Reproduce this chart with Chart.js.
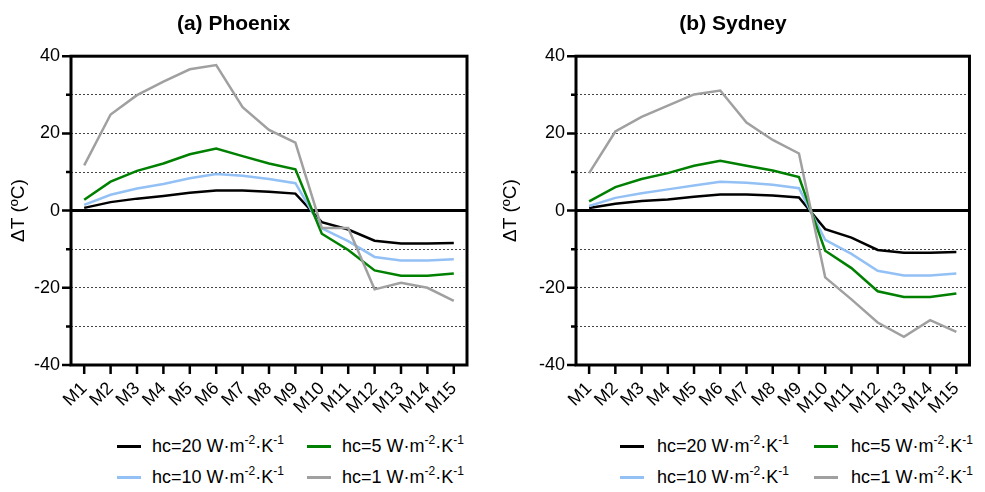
<!DOCTYPE html>
<html>
<head>
<meta charset="utf-8">
<script src="https://cdn.jsdelivr.net/npm/chart.js@4/dist/chart.umd.min.js"></script>
<style>
  html, body { margin: 0; padding: 0; background: #fff; }
  #wrap { position: relative; width: 985px; height: 492px; font-family: "Liberation Sans", Arial, sans-serif; color: #000; }
  .panel { position: absolute; top: 0; }
  .item { position: absolute; white-space: nowrap; height: 22px; line-height: 22px; font-size: 18px; }
  .swatch { position: absolute; left: 0; top: 10px; width: 24px; height: 3px; }
  .lbl { position: absolute; top: 0; }
  .lbl sup { font-size: 12px; vertical-align: 0; position: relative; top: -8px; }
</style>
</head>
<body>
<div id="wrap">
  <div class="panel" style="left:0"><canvas id="chartA" width="492" height="420"></canvas></div>
  <div class="panel" style="left:492px"><canvas id="chartB" width="493" height="420"></canvas></div>
</div>
<script>
// Categories
const months = ['M1','M2','M3','M4','M5','M6','M7','M8','M9','M10','M11','M12','M13','M14','M15'];

// Convective coefficient of each series (W·m-2·K-1)
const hcValues = [20, 10, 5, 1];
const seriesColors = ['#000000', '#93c0f5', '#008000', '#a0a0a0'];

// Y axis range and step
const yMin = -40, yMax = 40, yStep = 10, yLabelStep = 20;

// (a) Phoenix: temperature difference ΔT (ºC)
const phoenixHc20 = [0.7, 2.2, 3.1, 3.8, 4.6, 5.2, 5.2, 4.9, 4.4, -3.0, -4.9, -7.8, -8.5, -8.5, -8.4];
const phoenixHc10 = [1.5, 4.1, 5.7, 6.9, 8.4, 9.5, 9.0, 8.2, 7.1, -4.6, -7.9, -12.0, -12.9, -12.9, -12.6];
const phoenixHc5  = [2.8, 7.5, 10.3, 12.2, 14.6, 16.1, 14.1, 12.2, 10.7, -6.0, -10.2, -15.5, -16.9, -16.9, -16.3];
const phoenixHc1  = [11.7, 24.9, 29.9, 33.4, 36.6, 37.7, 26.8, 20.9, 17.6, -4.5, -4.5, -20.4, -18.7, -20.0, -23.4];

// (b) Sydney: temperature difference ΔT (ºC)
const sydneyHc20 = [0.7, 1.8, 2.5, 2.9, 3.6, 4.2, 4.2, 3.9, 3.4, -4.8, -7.0, -10.2, -10.9, -10.9, -10.7];
const sydneyHc10 = [1.2, 3.3, 4.5, 5.5, 6.5, 7.5, 7.2, 6.7, 5.8, -7.6, -11.2, -15.6, -16.8, -16.8, -16.3];
const sydneyHc5  = [2.4, 6.1, 8.2, 9.7, 11.6, 12.9, 11.6, 10.4, 8.7, -10.4, -14.9, -20.9, -22.4, -22.4, -21.5];
const sydneyHc1  = [9.7, 20.5, 24.3, 27.2, 30.1, 31.1, 22.8, 18.3, 14.8, -17.3, -23.0, -29.0, -32.7, -28.4, -31.4];

// Legend grid: rows of series indices
const legendRows = [[0, 2], [1, 3]];

const FONT = '"Liberation Sans", Arial, sans-serif';

// Frame, zero line and tick marks around the plot area
const framePlugin = {
  id: 'frame',
  beforeDatasetsDraw(chart) {
    const { ctx, chartArea: a, scales: { y } } = chart;
    const y0 = y.getPixelForValue(0);
    ctx.save();
    ctx.strokeStyle = '#000';
    ctx.lineWidth = 3;
    ctx.beginPath();
    ctx.moveTo(a.left, y0);
    ctx.lineTo(a.right, y0);
    ctx.stroke();
    ctx.restore();
  },
  afterDraw(chart) {
    const { ctx, chartArea: a, scales: { x, y } } = chart;
    ctx.save();
    ctx.strokeStyle = '#000';
    ctx.lineWidth = 3;
    ctx.strokeRect(a.left, a.top, a.right - a.left, a.bottom - a.top);
    ctx.lineWidth = 2.5;
    ctx.beginPath();
    y.ticks.forEach(t => {
      const py = y.getPixelForValue(t.value);
      const len = t.value % yLabelStep === 0 ? 9 : 5;
      ctx.moveTo(a.left - len, py);
      ctx.lineTo(a.left, py);
    });
    x.ticks.forEach((t, i) => {
      const px = x.getPixelForTick(i);
      ctx.moveTo(px, a.bottom);
      ctx.lineTo(px, a.bottom + 9);
    });
    ctx.stroke();
    ctx.restore();
  }
};

function makeChart(canvasId, title, series, yWidth, padRight) {
  return new Chart(document.getElementById(canvasId), {
    type: 'line',
    data: {
      labels: months,
      datasets: series.map((vals, i) => ({
        label: 'hc=' + hcValues[i],
        data: vals,
        borderColor: seriesColors[i],
        backgroundColor: seriesColors[i],
        borderWidth: 2.5,
        pointRadius: 0,
        tension: 0,
        fill: false
      })).reverse()
    },
    options: {
      responsive: false,
      animation: false,
      layout: { padding: { left: 0, right: padRight, top: 0, bottom: 0 } },
      plugins: {
        legend: { display: false },
        tooltip: { enabled: false },
        title: {
          display: true,
          text: title,
          color: '#000',
          font: { family: FONT, size: 21, weight: 'bold' },
          padding: { top: 12, bottom: 19 }
        }
      },
      scales: {
        x: {
          offset: true,
          grid: { display: false, drawTicks: false },
          border: { display: false },
          ticks: {
            autoSkip: false,
            minRotation: 45,
            maxRotation: 45,
            padding: 13,
            color: '#000',
            font: { family: FONT, size: 18 }
          },
          afterFit(s) { s.height = 55; }
        },
        y: {
          min: yMin,
          max: yMax,
          grid: {
            drawTicks: false,
            lineWidth: 1,
            color: ctx => {
              const v = ctx.tick ? ctx.tick.value : 0;
              return (v === 0 || Math.abs(v) === yMax) ? 'rgba(0,0,0,0)' : '#444';
            }
          },
          border: { display: false, dash: [2, 2] },
          ticks: {
            stepSize: yStep,
            padding: 11,
            color: '#000',
            font: { family: FONT, size: 18 },
            callback: v => (v % yLabelStep === 0 ? String(v) : '')
          },
          title: {
            display: true,
            text: 'ΔT (ºC)',
            color: '#000',
            font: { family: FONT, size: 19 },
            padding: { top: 7, bottom: 0 }
          },
          afterFit(s) { s.width = yWidth; }
        }
      }
    },
    plugins: [framePlugin]
  });
}

makeChart('chartA', '(a) Phoenix', [phoenixHc20, phoenixHc10, phoenixHc5, phoenixHc1], 71, 25);
makeChart('chartB', '(b) Sydney', [sydneyHc20, sydneyHc10, sydneyHc5, sydneyHc1], 84, 11);

// Legends below each panel
function buildLegend(colLeft, rowCenter, textGap) {
  const wrap = document.getElementById('wrap');
  legendRows.forEach((row, r) => {
    row.forEach((si, c) => {
      const item = document.createElement('div');
      item.className = 'item';
      item.style.left = colLeft[c] + 'px';
      item.style.top = (rowCenter[r] - 11) + 'px';
      const sw = document.createElement('div');
      sw.className = 'swatch';
      sw.style.background = seriesColors[si];
      const lbl = document.createElement('div');
      lbl.className = 'lbl';
      lbl.style.left = textGap + 'px';
      lbl.innerHTML = 'hc=' + hcValues[si] + ' W·m<sup>-2</sup>·K<sup>-1</sup>';
      item.appendChild(sw);
      item.appendChild(lbl);
      wrap.appendChild(item);
    });
  });
}
buildLegend([117, 307], [446, 477], 35);
buildLegend([620, 814], [446, 477], 37);
</script>
</body>
</html>
